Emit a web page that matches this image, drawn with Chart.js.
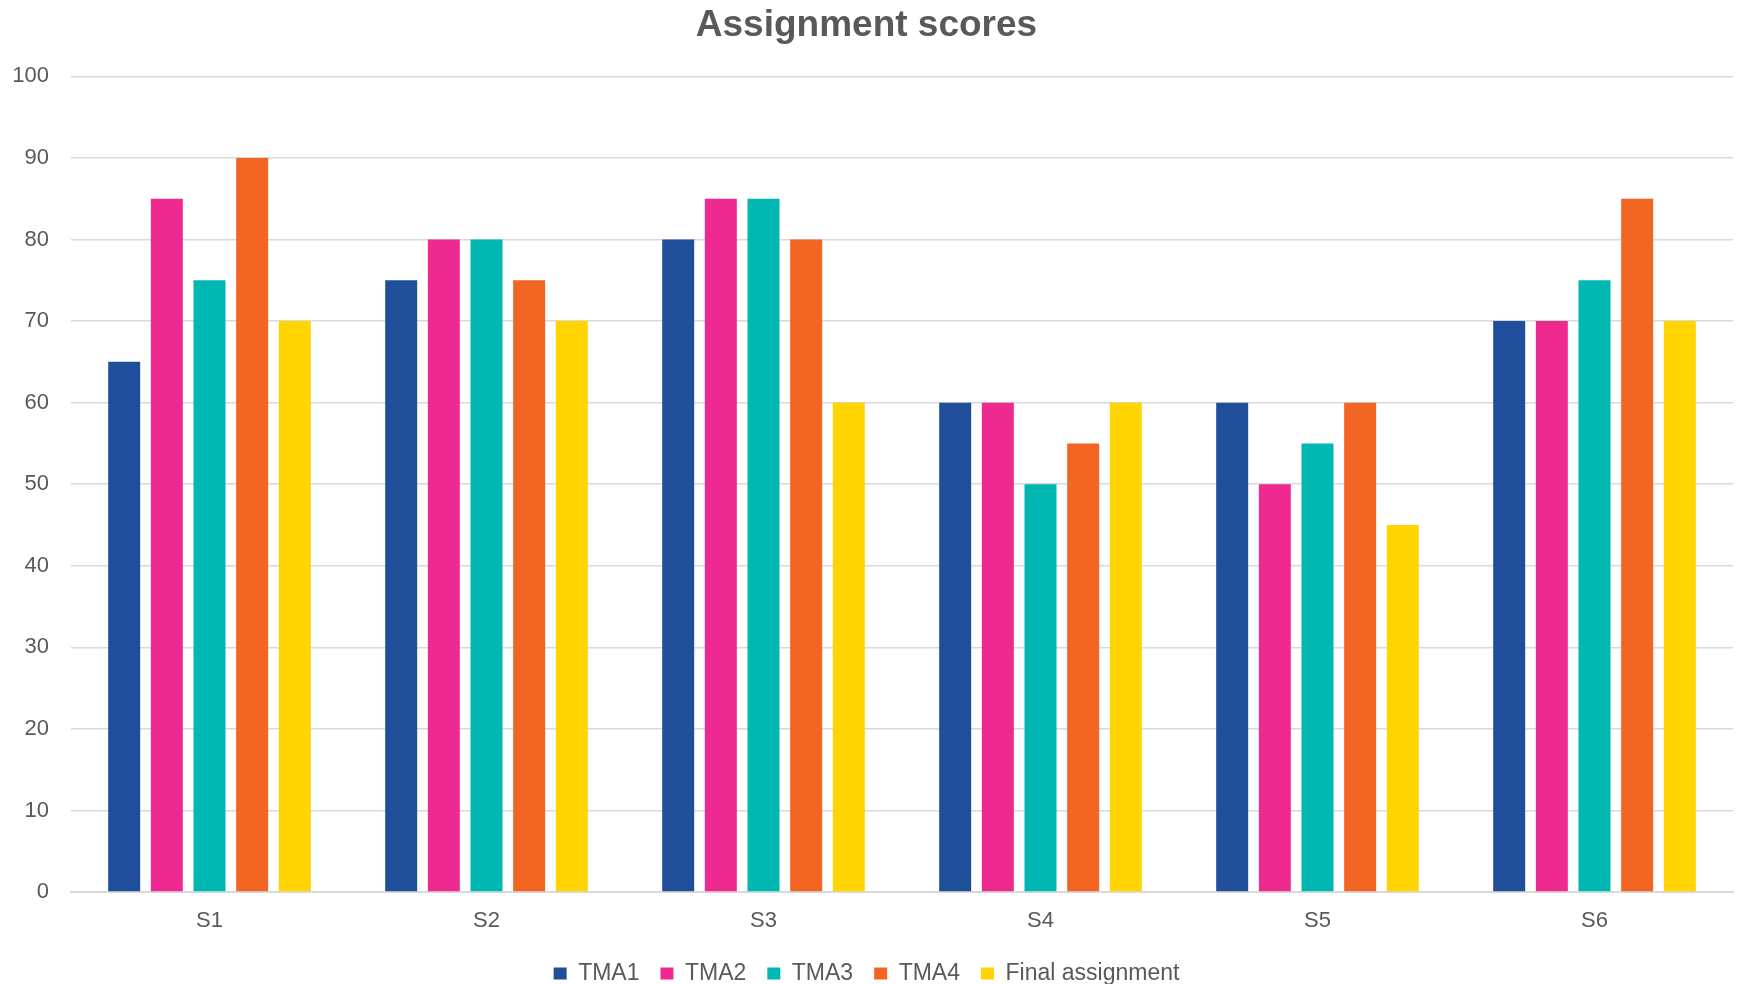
<!DOCTYPE html>
<html>
<head>
<meta charset="utf-8">
<title>Assignment scores</title>
<script src="https://cdn.jsdelivr.net/npm/chart.js@4.4.0/dist/chart.umd.min.js"></script>
<style>
    html, body { margin: 0; padding: 0; background: #fff; }
    #wrap { width: 1738px; height: 984px; position: relative; }
</style>
</head>
<body>
<div id="wrap"><canvas id="scoresChart"></canvas></div>
<script>
// Categories (students)
const students = ['S1', 'S2', 'S3', 'S4', 'S5', 'S6'];

// Series values
const tma1 = [65, 75, 80, 60, 60, 70];
const tma2 = [85, 80, 85, 60, 50, 70];
const tma3 = [75, 80, 85, 50, 55, 75];
const tma4 = [90, 75, 80, 55, 60, 85];
const finalAssignment = [70, 70, 60, 60, 45, 70];

const seriesNames = ['TMA1', 'TMA2', 'TMA3', 'TMA4', 'Final assignment'];
const seriesColors = ['#1F4E9B', '#EE2A91', '#00B8B1', '#F26522', '#FFD400'];

// Y axis ticks
const yMin = 0;
const yMax = 100;
const yStep = 10;

const textColor = '#595959';
const gridColor = '#D9D9D9';
const fontFamily = 'Liberation Sans, Arial, sans-serif';

document.addEventListener('DOMContentLoaded', function () {
    const ctx = document.getElementById('scoresChart').getContext('2d');
    const values = [tma1, tma2, tma3, tma4, finalAssignment];

    new Chart(ctx, {
        type: 'bar',
        data: {
            labels: students,
            datasets: values.map((data, i) => ({
                label: seriesNames[i],
                data: data,
                backgroundColor: seriesColors[i],
                categoryPercentage: 0.77,
                barPercentage: 0.75
            }))
        },
        options: {
            responsive: true,
            maintainAspectRatio: false,
            animation: false,
            layout: {
                // legend box padding is shared with item spacing, pull it down a bit
                padding: { left: 0, right: 5, top: 0, bottom: -11 }
            },
            plugins: {
                title: {
                    display: true,
                    text: 'Assignment scores',
                    color: textColor,
                    font: { family: fontFamily, size: 37, weight: 'bold' },
                    padding: { top: 4, bottom: 28 }
                },
                legend: {
                    position: 'bottom',
                    labels: {
                        color: textColor,
                        font: { family: fontFamily, size: 23 },
                        boxWidth: 13,
                        boxHeight: 12,
                        padding: 21
                    }
                },
                tooltip: { enabled: false }
            },
            scales: {
                x: {
                    grid: { display: false },
                    border: { color: gridColor, width: 2 },
                    ticks: {
                        color: textColor,
                        font: { family: fontFamily, size: 22 },
                        padding: 8
                    },
                    afterFit: function (scale) {
                        scale.height = 49;
                    }
                },
                y: {
                    min: yMin,
                    max: yMax,
                    ticks: {
                        stepSize: yStep,
                        color: textColor,
                        font: { family: fontFamily, size: 22 },
                        padding: 22
                    },
                    grid: { color: gridColor, lineWidth: 1.5, drawTicks: false },
                    border: { display: false },
                    afterFit: function (scale) {
                        scale.width = 71;
                    }
                }
            }
        }
    });
});
</script>
</body>
</html>
